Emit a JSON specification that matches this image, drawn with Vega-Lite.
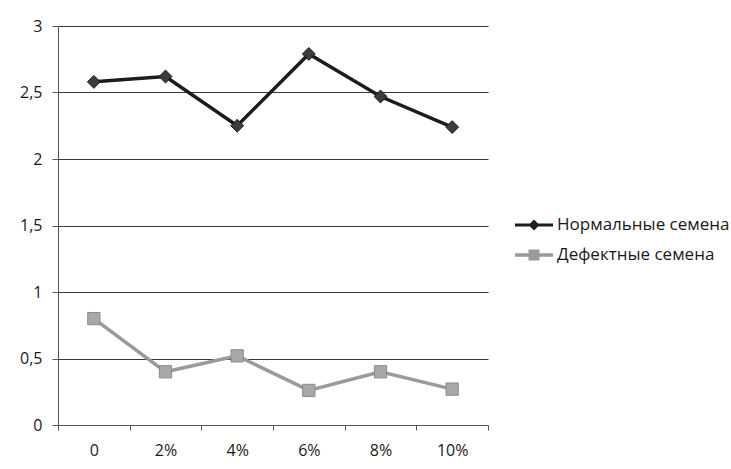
{
  "$schema": "https://vega.github.io/schema/vega-lite/v6.json",
  "width": 430,
  "height": 399,
  "autosize": {"type": "none"},
  "padding": {"left": 58, "top": 26, "right": 243, "bottom": 44},
  "background": "white",
  "config": {
    "view": {"stroke": null},
    "font": "Open Sans",
    "axis": {
      "labelFont": "Open Sans",
      "labelFontSize": 16,
      "labelColor": "#1a1a1a",
      "title": null
    },
    "legend": {"labelFont": "Open Sans", "labelFontSize": 17, "labelColor": "#1a1a1a", "labelLimit": 300}
  },
  "data": {
    "values": [
      {"dose": "0", "series": "Нормальные семена", "value": 2.58},
      {"dose": "2%", "series": "Нормальные семена", "value": 2.62},
      {"dose": "4%", "series": "Нормальные семена", "value": 2.25},
      {"dose": "6%", "series": "Нормальные семена", "value": 2.79},
      {"dose": "8%", "series": "Нормальные семена", "value": 2.47},
      {"dose": "10%", "series": "Нормальные семена", "value": 2.24},
      {"dose": "0", "series": "Дефектные семена", "value": 0.8},
      {"dose": "2%", "series": "Дефектные семена", "value": 0.4},
      {"dose": "4%", "series": "Дефектные семена", "value": 0.52},
      {"dose": "6%", "series": "Дефектные семена", "value": 0.26},
      {"dose": "8%", "series": "Дефектные семена", "value": 0.4},
      {"dose": "10%", "series": "Дефектные семена", "value": 0.27}
    ]
  },
  "encoding": {
    "x": {
      "field": "dose",
      "type": "nominal",
      "sort": ["0", "2%", "4%", "6%", "8%", "10%"],
      "scale": {"type": "band", "paddingInner": 0, "paddingOuter": 0},
      "axis": {
        "labelAngle": 0,
        "domainColor": "#555555",
        "tickColor": "#555555",
        "tickBand": "extent",
        "tickSize": 5,
        "labelPadding": 12,
        "grid": false
      }
    },
    "y": {
      "field": "value",
      "type": "quantitative",
      "scale": {"domain": [0, 3], "nice": false},
      "axis": {
        "values": [0, 0.5, 1, 1.5, 2, 2.5, 3],
        "labelExpr": "replace(format(datum.value, '~g'), '.', ',')",
        "domainColor": "#555555",
        "tickColor": "#555555",
        "tickSize": 6,
        "labelPadding": 10,
        "grid": true,
        "gridColor": "#3a3a3a",
        "gridWidth": 1
      }
    }
  },
  "layer": [
    {
      "mark": {"type": "line", "strokeWidth": 3.5},
      "encoding": {
        "color": {
          "field": "series",
          "type": "nominal",
          "sort": ["Нормальные семена", "Дефектные семена"],
          "scale": {"domain": ["Нормальные семена", "Дефектные семена"], "range": ["#1c1c1c", "#9a9a9a"]},
          "legend": {
            "title": null,
            "orient": "none",
            "legendX": 466,
            "legendY": 189,
            "rowPadding": 12,
            "labelOffset": 13,
            "symbolSize": 400,
            "symbolStrokeWidth": 0,
            "symbolOpacity": 1,
            "encode": {
              "symbols": {
                "update": {
                  "shape": {"signal": "datum.value === 'Нормальные семена' ? 'M-1.9,-0.15H1.9V0.15H-1.9Z M-0.55,0L0,-0.55L0.55,0L0,0.55Z' : 'M-1.9,-0.18H1.9V0.18H-1.9Z M-0.55,-0.55H0.55V0.55H-0.55Z'"},
                  "fill": {"signal": "datum.value === 'Нормальные семена' ? '#1c1c1c' : '#9a9a9a'"},
                  "size": {"value": 400},
                  "strokeWidth": {"value": 0}
                }
              }
            }
          }
        }
      }
    },
    {
      "transform": [{"filter": "datum.series === 'Нормальные семена'"}],
      "mark": {"type": "point", "shape": "diamond", "size": 165, "filled": true, "opacity": 1, "fill": "#3c3c3c", "stroke": "#1a1a1a", "strokeWidth": 1}
    },
    {
      "transform": [{"filter": "datum.series === 'Дефектные семена'"}],
      "mark": {"type": "point", "shape": "square", "size": 150, "filled": true, "opacity": 1, "fill": "#a8a8a8", "stroke": "#8a8a8a", "strokeWidth": 1}
    }
  ]
}
